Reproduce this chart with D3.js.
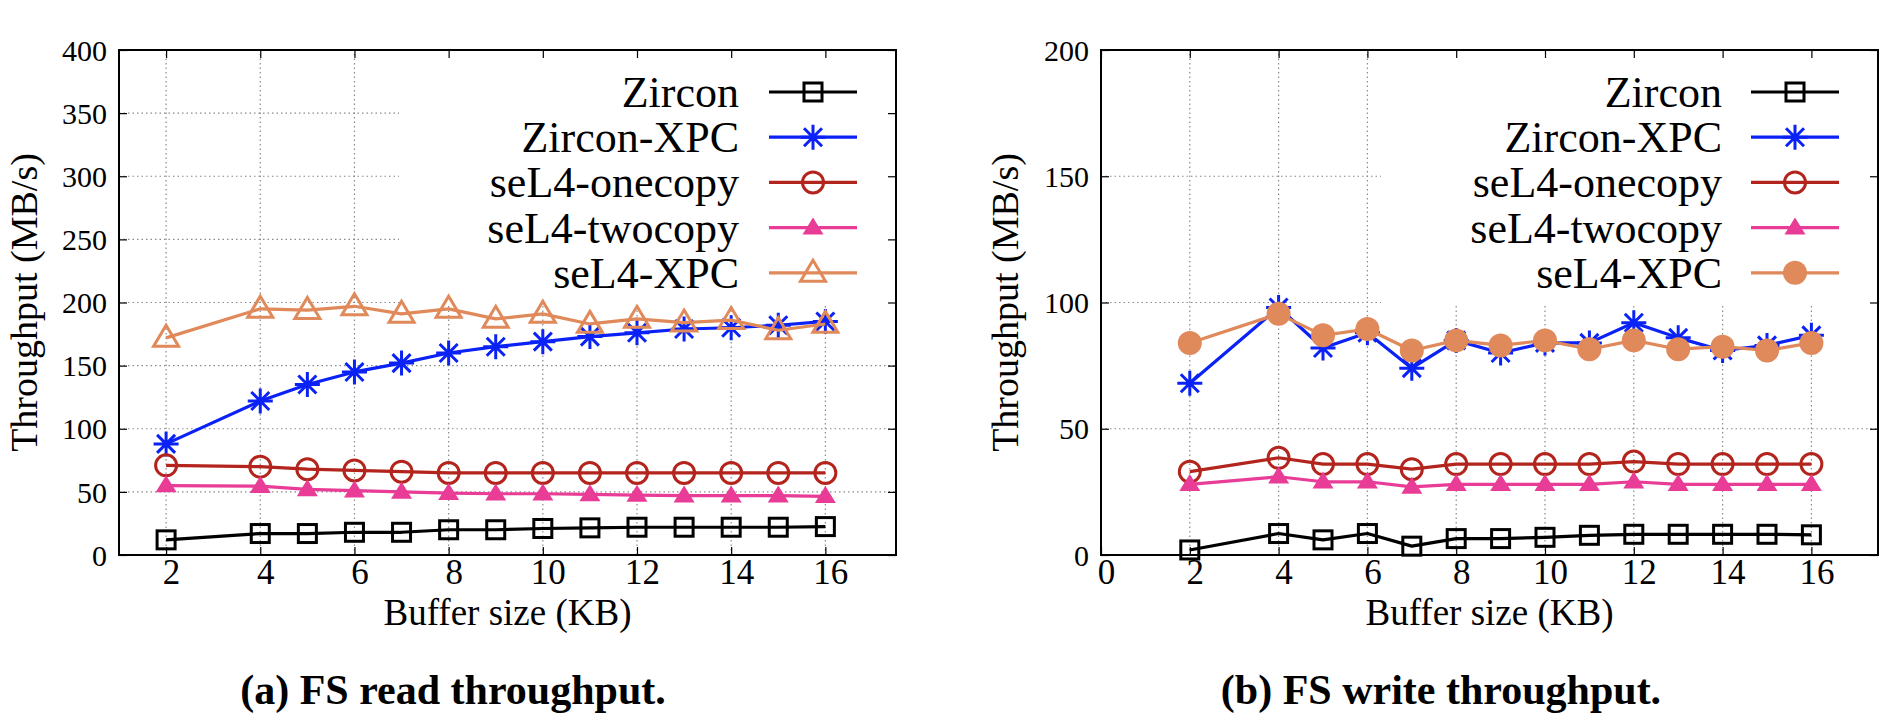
<!DOCTYPE html>
<html><head><meta charset="utf-8">
<script src="https://cdn.jsdelivr.net/npm/d3@7"></script>
</head>
<body style="margin:0;padding:0;background:#fff">
<svg id="c" width="1896" height="728" font-family="Liberation Serif" style="display:block;background:#fff"></svg>
<script>
// ---------- data ----------
const bufferSizes = [2, 4, 5, 6, 7, 8, 9, 10, 11, 12, 13, 14, 15, 16];
const seriesNames = ["Zircon", "Zircon-XPC", "seL4-onecopy", "seL4-twocopy", "seL4-XPC"];

const readZircon     = [12, 17, 17, 18, 18, 20, 20, 21, 21.5, 22, 22, 22, 22, 22.5];
const readZirconXPC  = [88, 122, 135, 145, 152, 160, 165, 169, 173, 176, 179, 180, 182, 185];
const readOnecopy    = [71, 70, 68, 67, 66, 65, 65, 65, 65, 65, 65, 65, 65, 65];
const readTwocopy    = [55, 54.5, 52, 51, 50, 49, 48.5, 48.5, 48, 47.5, 47, 47, 47, 46.5];
const readSel4XPC    = [172, 195, 194, 197, 191, 195, 187, 191, 183, 187, 184, 186, 178, 183];

const writeZircon    = [2, 8.5, 6, 8.5, 3.5, 6.5, 6.5, 7, 7.8, 8.2, 8.2, 8.2, 8.2, 8];
const writeZirconXPC = [68, 98, 82, 88, 74, 85, 80, 84, 84, 92, 86, 81, 83, 87];
const writeOnecopy   = [33, 38.5, 36, 36, 34, 36, 36, 36, 36, 37, 36, 36, 36, 36];
const writeTwocopy   = [28, 31, 29, 29, 27, 28, 28, 28, 28, 29, 28, 28, 28, 28];
const writeSel4XPC   = [84, 95.5, 87, 89.5, 81, 85, 83, 85, 81.5, 85, 81.5, 82.5, 81, 84];

const readXTicks  = [2, 4, 6, 8, 10, 12, 14, 16];
const writeXTicks = [0, 2, 4, 6, 8, 10, 12, 14, 16];
const readYTicks  = [0, 50, 100, 150, 200, 250, 300, 350, 400];
const writeYTicks = [0, 50, 100, 150, 200];

const xLabel = "Buffer size (KB)";
const yLabel = "Throughput (MB/s)";
const titles = ["(a) FS read throughput.", "(b) FS write throughput."];

// ---------- styles ----------
const FONT = "Liberation Serif";
const colors  = ["#000000", "#0a22f5", "#b3241d", "#e83c96", "#e0895a"];
const readMarkers  = ["square", "star", "circle", "triFill", "triOpen"];
const writeMarkers = ["square", "star", "circle", "triFill", "dot"];

const svg = d3.select("#c");

function drawMarker(g, type, cx, cy, color) {
  const sw = 3;
  if (type === "square") {
    g.append("rect").attr("x", cx - 9).attr("y", cy - 9).attr("width", 18).attr("height", 18)
      .attr("fill", "none").attr("stroke", color).attr("stroke-width", sw);
  } else if (type === "circle") {
    g.append("circle").attr("cx", cx).attr("cy", cy).attr("r", 10.5)
      .attr("fill", "none").attr("stroke", color).attr("stroke-width", sw);
  } else if (type === "dot") {
    g.append("circle").attr("cx", cx).attr("cy", cy).attr("r", 12).attr("fill", color);
  } else if (type === "star") {
    const r = 12.5, d = r * 0.72;
    const p = `M${cx - r},${cy}L${cx + r},${cy}M${cx},${cy - r}L${cx},${cy + r}` +
              `M${cx - d},${cy - d}L${cx + d},${cy + d}M${cx - d},${cy + d}L${cx + d},${cy - d}`;
    g.append("path").attr("d", p).attr("stroke", color).attr("stroke-width", sw).attr("fill", "none");
  } else if (type === "triFill") {
    const h = 17, w = 10.5;
    g.append("path").attr("d", `M${cx},${cy - h * 0.6}L${cx + w},${cy + h * 0.4}L${cx - w},${cy + h * 0.4}Z`)
      .attr("fill", color);
  } else if (type === "triOpen") {
    const h = 21, w = 12.5;
    g.append("path").attr("d", `M${cx},${cy - h * 0.6}L${cx + w},${cy + h * 0.4}L${cx - w},${cy + h * 0.4}Z`)
      .attr("fill", "none").attr("stroke", color).attr("stroke-width", sw).attr("stroke-linejoin", "miter");
  }
}

function drawChart(cfg) {
  const g = svg.append("g");
  const x = d3.scaleLinear().domain(cfg.xDomain).range([cfg.left, cfg.right]);
  const y = d3.scaleLinear().domain(cfg.yDomain).range([cfg.bottom, cfg.top]);

  // grid
  const grid = g.append("g").attr("stroke", "#8a8a8a").attr("stroke-width", 1.2)
    .attr("stroke-dasharray", "1.5,3");
  cfg.xTicks.filter(t => t > cfg.xDomain[0]).forEach(t => {
    grid.append("line").attr("x1", x(t)).attr("x2", x(t)).attr("y1", y(cfg.yDomain[0])).attr("y2", y(cfg.yDomain[1]));
  });
  cfg.yTicks.filter(t => t > cfg.yDomain[0] && t < cfg.yDomain[1]).forEach(t => {
    grid.append("line").attr("x1", cfg.left).attr("x2", cfg.right).attr("y1", y(t)).attr("y2", y(t));
  });

  // legend background (opaque key box)
  g.append("rect").attr("x", cfg.keyBoxLeft).attr("y", cfg.top + 1)
    .attr("width", cfg.right - cfg.keyBoxLeft - 1).attr("height", cfg.keyBoxBottom - cfg.top - 1)
    .attr("fill", "#fff");

  // axes (inward ticks on all sides)
  const fmt = d3.format("d");
  const ax = g.append("g").attr("transform", `translate(0,${cfg.bottom})`)
    .call(d3.axisBottom(x).tickValues(cfg.xTicks).tickSize(-8).tickPadding(0).tickFormat(fmt));
  ax.attr("font-family", FONT).attr("font-size", 35);
  ax.selectAll("text").attr("font-family", FONT).attr("font-size", 35)
    .attr("dy", 0).attr("y", 29).attr("dx", 5).attr("fill", "#000");
  const axT = g.append("g").attr("transform", `translate(0,${cfg.top})`)
    .call(d3.axisTop(x).tickValues(cfg.xTicks).tickSize(-8).tickFormat(""));
  const ay = g.append("g").attr("transform", `translate(${cfg.left},0)`)
    .call(d3.axisLeft(y).tickValues(cfg.yTicks).tickSize(-8).tickPadding(12).tickFormat(fmt));
  ay.attr("font-family", FONT).attr("font-size", 30);
  ay.selectAll("text").attr("font-family", FONT).attr("font-size", 30).attr("dy", "0.34em").attr("fill", "#000");
  const ayR = g.append("g").attr("transform", `translate(${cfg.right},0)`)
    .call(d3.axisRight(y).tickValues(cfg.yTicks).tickSize(-8).tickFormat(""));
  [ax, axT, ay, ayR].forEach(a => {
    a.select(".domain").remove();
    a.selectAll(".tick line").attr("stroke", "#000").attr("stroke-width", 1.2);
  });

  // border
  g.append("rect").attr("x", cfg.left).attr("y", cfg.top)
    .attr("width", cfg.right - cfg.left).attr("height", cfg.bottom - cfg.top)
    .attr("fill", "none").attr("stroke", "#000").attr("stroke-width", 2);

  // axis labels
  g.append("text").attr("x", (cfg.left + cfg.right) / 2).attr("y", 625)
    .attr("font-family", FONT).attr("text-anchor", "middle").attr("font-size", 37).text(xLabel);
  g.append("text").attr("transform", `translate(${cfg.yLabelX},${(cfg.top + cfg.bottom) / 2}) rotate(-90)`)
    .attr("font-family", FONT).attr("text-anchor", "middle").attr("font-size", 38).text(yLabel);

  // series
  const line = d3.line().x(d => x(d[0])).y(d => y(d[1]));
  cfg.series.forEach((vals, i) => {
    const pts = bufferSizes.map((b, j) => [b, vals[j]]);
    g.append("path").attr("d", line(pts)).attr("fill", "none")
      .attr("stroke", colors[i]).attr("stroke-width", 3.2).attr("stroke-linejoin", "round");
    const mg = g.append("g");
    pts.forEach(p => drawMarker(mg, cfg.markers[i], x(p[0]), y(p[1]), colors[i]));
  });

  // legend
  seriesNames.forEach((name, i) => {
    const ry = 92 + i * 45.2;
    g.append("text").attr("x", cfg.keyTextRight).attr("y", ry + 15)
      .attr("font-family", FONT).attr("text-anchor", "end").attr("font-size", 44).text(name);
    g.append("line").attr("x1", cfg.keyLineX1).attr("x2", cfg.keyLineX2).attr("y1", ry).attr("y2", ry)
      .attr("stroke", colors[i]).attr("stroke-width", 3.2);
    drawMarker(g, cfg.markers[i], (cfg.keyLineX1 + cfg.keyLineX2) / 2, ry, colors[i]);
  });

  // caption
  g.append("text").attr("x", cfg.captionX).attr("y", 704).attr("text-anchor", "middle")
    .attr("font-family", FONT).attr("font-size", 42).attr("font-weight", "bold").text(cfg.title);
}

drawChart({
  left: 119, right: 896, top: 50, bottom: 555,
  xDomain: [1, 17.5], yDomain: [0, 400],
  xTicks: readXTicks, yTicks: readYTicks,
  series: [readZircon, readZirconXPC, readOnecopy, readTwocopy, readSel4XPC],
  markers: readMarkers,
  keyBoxLeft: 399, keyBoxBottom: 304,
  keyTextRight: 739, keyLineX1: 769, keyLineX2: 857,
  yLabelX: 37, captionX: 453, title: titles[0]
});

drawChart({
  left: 1101, right: 1878, top: 50, bottom: 555,
  xDomain: [0, 17.5], yDomain: [0, 200],
  xTicks: writeXTicks, yTicks: writeYTicks,
  series: [writeZircon, writeZirconXPC, writeOnecopy, writeTwocopy, writeSel4XPC],
  markers: writeMarkers,
  keyBoxLeft: 1381, keyBoxBottom: 304,
  keyTextRight: 1722, keyLineX1: 1751, keyLineX2: 1839,
  yLabelX: 1018, captionX: 1441, title: titles[1]
});
</script>
</body></html>
